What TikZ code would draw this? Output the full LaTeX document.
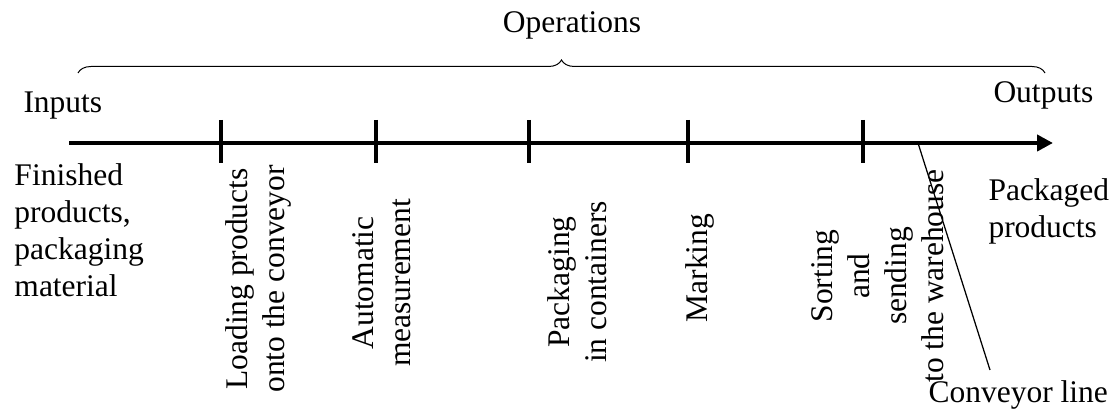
\documentclass[tikz,border=0pt]{standalone}
\usepackage{fontspec}
\setmainfont{Liberation Serif}
\usetikzlibrary{arrows.meta,decorations.pathreplacing}

\begin{document}
\begin{tikzpicture}[x=0.4pt,y=-0.4pt,
    every node/.style={font=\fontsize{12.6}{14.8}\selectfont, inner sep=0pt},
    oplabel/.style={rotate=90, align=center},
    tickline/.style={line width=1.6pt}]
                \useasboundingbox (0,0) rectangle (1115,412);

                \node[anchor=base] (ops) at (572,33) {Operations};
                \coordinate (bl) at (78,73);
                \coordinate (br) at (1045,73);
                \draw[decorate, decoration={brace, amplitude=5.2pt}] (bl) -- (br);

                \node[anchor=base west] (in) at (23,113) {Inputs};
                \node[anchor=base west] (out) at (993,103) {Outputs};

                \coordinate (start) at (69,143);
                \coordinate (end) at (1053,143);
                \draw[line width=1.6pt, -{Triangle[length=6.4pt,width=6.4pt]}] (start) -- (end);
                \foreach \x in {221,376,529,688,863}
                    \draw[tickline] (\x,120) -- (\x,163);

                \node[anchor=north west, align=left] (fin) at (14,163) {Finished\\products,\\packaging\\material};
                \node[oplabel] (load) at (258,279) {Loading products\\onto the conveyor};
                \node[oplabel] (meas) at (382,283) {Automatic\\measurement};
                \node[oplabel] (pack) at (577,282) {Packaging\\in containers};
                \node[oplabel] (mark) at (700,268) {Marking};
                \node[oplabel] (sort) at (878,276) {Sorting\\and\\sending\\to the warehouse};
                \node[anchor=north west, align=left] (prod) at (988,178) {Packaged\\products};

                \node[anchor=base west] (conv) at (928,403) {Conveyor line};
                \coordinate (cvtop) at (918,143);
                \coordinate (cvend) at (990,370);
                \draw[line width=0.5pt] (cvtop) -- (cvend);
            \end{tikzpicture}
\end{document}
